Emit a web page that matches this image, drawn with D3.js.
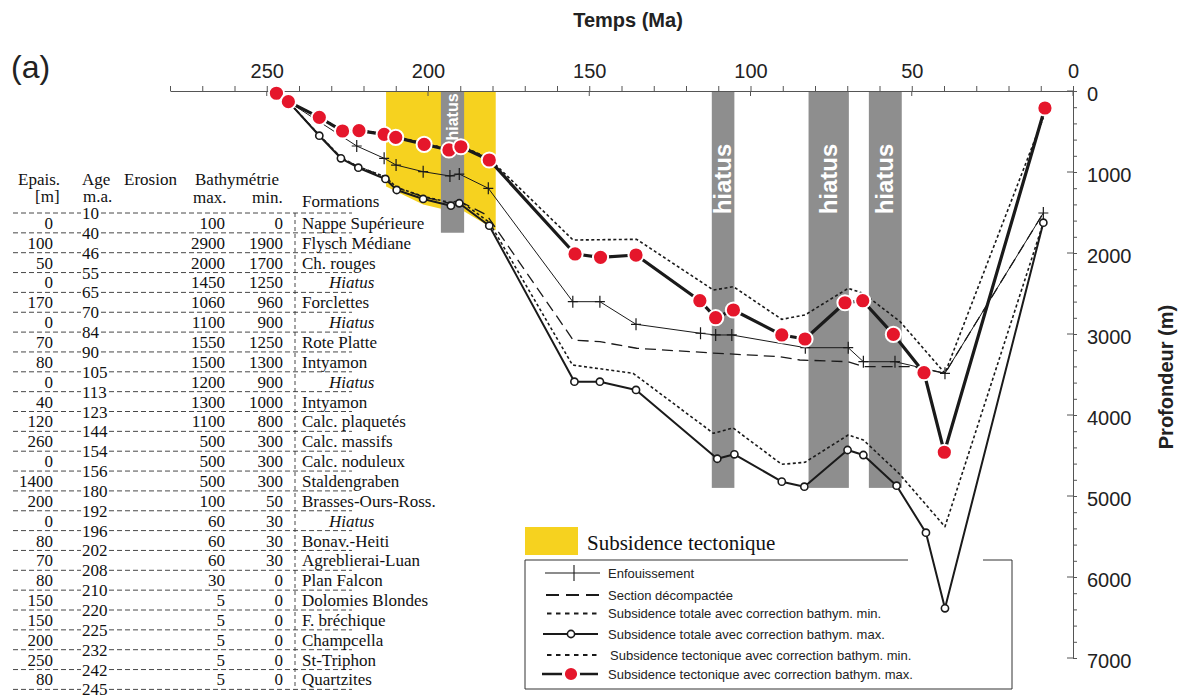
<!DOCTYPE html>
<html><head><meta charset="utf-8">
<script src="https://cdn.jsdelivr.net/npm/d3@7"></script>
<style>
body{margin:0;background:#fff;}
svg{display:block;}
</style></head><body>
<svg id="c" width="1180" height="699"></svg>
<script>
// ---------- Table (left) ----------
const tableAges = [10,40,46,55,65,70,84,90,105,113,123,144,154,156,180,192,196,202,208,210,220,225,232,242,245];
const tableEpais = [0,100,50,0,170,0,70,80,0,40,120,260,0,1400,200,0,80,70,80,150,150,200,250,80];
const tableBathyMax = [100,2900,2000,1450,1060,1100,1550,1500,1200,1300,1100,500,500,500,100,60,60,60,30,5,5,5,5,5];
const tableBathyMin = [0,1900,1700,1250,960,900,1250,1300,900,1000,800,300,300,300,50,30,30,30,0,0,0,0,0,0];
const tableFormations = ["Nappe Supérieure","Flysch Médiane","Ch. rouges","Hiatus","Forclettes","Hiatus","Rote Platte","Intyamon","Hiatus","Intyamon","Calc. plaquetés","Calc. massifs","Calc. noduleux","Staldengraben","Brasses-Ours-Ross.","Hiatus","Bonav.-Heiti","Agreblierai-Luan","Plan Falcon","Dolomies Blondes","F. bréchique","Champcella","St-Triphon","Quartzites"];

// ---------- Axes ----------
const xTicks = d3.range(0, 281, 10);
const xLabels = [250, 200, 150, 100, 50, 0];
const yTicks = d3.range(0, 7001, 200);
const yLabels = [0, 1000, 2000, 3000, 4000, 5000, 6000, 7000];

// ---------- Bands ----------
const tectBandAge = [213, 201.5, 193, 190.3, 179];
const tectBandBottom = [1180, 1400, 1480, 1450, 1720];
const hiatusStart = [196, 112, 82, 63.3];
const hiatusEnd = [188.8, 105, 69.5, 53.1];
const hiatusBottom = [1750, 4900, 4900, 4900];

// ---------- Series (age Ma, depth m) ----------
const tectMaxAge   = [247,243.3,233.7,226.5,221.4,213.6,210,201.2,193.5,189.8,181,154.4,146.5,135.5,115.7,110.8,105.3,90.3,83.1,70.7,65.2,55.7,46.2,39.9,8.7];
const tectMaxDepth = [28,132,325,494,490,535,572,658,728,688,852,2012,2053,2025,2589,2799,2704,3012,3062,2614,2589,3004,3478,4460,210];

const tectMinAge   = [247,243.3,233.7,226.5,221.4,213.6,210,201.2,193.5,189.8,181,155,135.3,111.5,105.3,90.3,83.1,69.7,65,53.6,39.7,9.2];
const tectMinDepth = [28,132,320,485,482,525,560,645,715,675,835,1840,1831,2457,2416,2819,2765,2436,2498,2848,3485,330];

const totMaxAge   = [247,243.3,233.7,227,221.6,213.2,209.7,201.5,192.9,190.3,181,154.6,146.7,135.5,110.3,105,90.3,83.3,69.9,65,54.7,45.6,39.7,9.2];
const totMaxDepth = [28,132,552,831,947,1086,1222,1333,1416,1386,1663,3589,3589,3691,4540,4485,4823,4885,4432,4494,4873,5453,6386,1626];

const totMinAge   = [247,243.3,233.7,227,221.6,213.2,209.7,201.5,192.9,190.3,181,155.2,136.4,111.5,105.4,90.3,83.1,69.7,65,54,39.7,9.2];
const totMinDepth = [28,132,545,820,935,1060,1190,1300,1380,1350,1620,3383,3485,4226,4160,4609,4584,4247,4309,4720,5379,1626];

const decompAge   = [247,243.3,233.7,227,221.6,213.2,209.7,201.5,192.9,190.3,181.8,155,146.7,135.3,111.6,90.9,84.7,69.7,65,49.6,39.7,9.2];
const decompDepth = [28,132,545,820,935,1060,1195,1305,1390,1360,1531,3074,3095,3176,3235,3280,3321,3342,3404,3404,3485,1506];

const enfAge   = [247,243.3,222.1,213.6,209.9,201.5,193.2,190.3,181.3,155.1,146.7,135.5,115.5,110.8,105.8,83,69.7,65,55.2,39.7,9.2];
const enfDepth = [28,132,679,831,914,996,1049,1025,1201,2601,2601,2880,2991,3012,3012,3169,3169,3342,3342,3485,1506];

const legendLabels = ["Enfouissement","Section  décompactée","Subsidence totale avec correction bathym. min.","Subsidence totale avec correction bathym. max.","Subsidence tectonique avec correction bathym. min.","Subsidence tectonique avec correction bathym. max."];
const legendBandLabel = "Subsidence tectonique";

// ================= drawing =================
const svg = d3.select("#c");
const SANS = "'Liberation Sans', Arial, Helvetica, sans-serif";
const SERIF = "'Liberation Serif', 'Times New Roman', serif";
const RED = "#e5162b", YELLOW = "#f6d21f", GREY = "#8e8e8e";

const x = d3.scaleLinear().domain([280, 0]).range([170, 1073]);
const y = d3.scaleLinear().domain([0, 7000]).range([91, 658]);
const zip = (a, b) => a.map((v, i) => [v, b[i]]);
const line = d3.line().x(d => x(d[0])).y(d => y(d[1]));

// yellow tectonic band
const band = [[tectBandAge[0], 0], [tectBandAge[tectBandAge.length - 1], 0]]
  .concat(zip(tectBandAge, tectBandBottom).reverse());
svg.append("path").attr("d", line(band) + "Z").attr("fill", YELLOW);

// hiatus bars
hiatusStart.forEach((s, i) => {
  svg.append("rect").attr("x", x(s)).attr("y", y(0))
    .attr("width", x(hiatusEnd[i]) - x(s)).attr("height", y(hiatusBottom[i]) - y(0))
    .attr("fill", GREY);
  const xc = (x(s) + x(hiatusEnd[i])) / 2;
  const yc = i === 0 ? 117 : 179;
  svg.append("text").attr("transform", `translate(${xc + (i === 0 ? 5 : 8)},${yc}) rotate(-90)`)
    .attr("text-anchor", "middle").attr("fill", "#fff")
    .attr("font-family", SANS).attr("font-weight", "bold")
    .attr("font-size", i === 0 ? 16 : 24).text("hiatus");
});

// axes
const gx = svg.append("g").attr("transform", "translate(0,91)")
  .call(d3.axisTop(x).tickValues(xTicks).tickSize(5).tickSizeOuter(0).tickPadding(8)
    .tickFormat(d => xLabels.includes(d) ? d : ""));
gx.selectAll("text").attr("font-size", 20).attr("font-family", SANS).attr("fill", "#222");
gx.selectAll("line,path").attr("stroke", "#555");
xLabels.forEach(v => svg.append("line").attr("x1", x(v)).attr("x2", x(v)).attr("y1", 91).attr("y2", 96).attr("stroke", "#555"));

const gy = svg.append("g").attr("transform", "translate(1073,0)")
  .call(d3.axisRight(y).tickValues(yTicks).tickSize(4).tickSizeOuter(0).tickPadding(10)
    .tickFormat(d => yLabels.includes(d) ? d : ""));
gy.selectAll("text").attr("font-size", 20).attr("font-family", SANS).attr("fill", "#222").attr("dy", "0.45em");
gy.selectAll("line,path").attr("stroke", "#555");
yLabels.forEach(v => svg.append("line").attr("x1", 1067).attr("x2", 1073).attr("y1", y(v)).attr("y2", y(v)).attr("stroke", "#555"));

svg.append("text").attr("x", 628).attr("y", 27).attr("text-anchor", "middle")
  .attr("font-family", SANS).attr("font-weight", "bold").attr("font-size", 20).attr("fill", "#222").text("Temps (Ma)");
svg.append("text").attr("transform", "translate(1173,377) rotate(-90)").attr("text-anchor", "middle")
  .attr("font-family", SANS).attr("font-weight", "bold").attr("font-size", 20).attr("fill", "#222").text("Profondeur (m)");
svg.append("text").attr("x", 11).attr("y", 78).attr("font-family", SANS).attr("font-size", 32).attr("fill", "#222").text("(a)");

// series lines
const drawLine = (a, b, w, dash) => svg.append("path").attr("d", line(zip(a, b)))
  .attr("fill", "none").attr("stroke", "#1a1a1a").attr("stroke-width", w)
  .attr("stroke-dasharray", dash || null).attr("stroke-linejoin", "round");
drawLine(totMinAge, totMinDepth, 1.6, "3,2.5");
drawLine(decompAge, decompDepth, 1.3, "11,6");
drawLine(totMaxAge, totMaxDepth, 2);
drawLine(enfAge, enfDepth, 1);
drawLine(tectMinAge, tectMinDepth, 1.6, "3,2.5");
drawLine(tectMaxAge, tectMaxDepth, 3.2);

// markers
svg.append("g").selectAll("path").data(zip(enfAge, enfDepth).slice(2)).join("path")
  .attr("d", d => `M${x(d[0]) - 5},${y(d[1])}H${x(d[0]) + 5}M${x(d[0])},${y(d[1]) - 6}V${y(d[1]) + 6}`)
  .attr("stroke", "#1a1a1a").attr("stroke-width", 1.2);
svg.append("g").selectAll("circle").data(zip(totMaxAge, totMaxDepth).slice(2)).join("circle")
  .attr("cx", d => x(d[0])).attr("cy", d => y(d[1])).attr("r", 3.6)
  .attr("fill", "#fff").attr("stroke", "#1a1a1a").attr("stroke-width", 1.6);
svg.append("g").selectAll("circle").data(zip(tectMaxAge, tectMaxDepth)).join("circle")
  .attr("cx", d => x(d[0])).attr("cy", d => y(d[1])).attr("r", 7.6)
  .attr("fill", RED).attr("stroke", "#fff").attr("stroke-width", 2);

// ---------- table ----------
const T = svg.append("g").attr("font-family", SERIF).attr("font-size", 17).attr("fill", "#111");
const top0 = 213, rowH = 19.85;
tableAges.forEach((a, k) => {
  const yy = top0 + k * rowH;
  T.append("line").attr("x1", 13).attr("x2", 352).attr("y1", yy).attr("y2", yy)
    .attr("stroke", "#333").attr("stroke-width", 0.9).attr("stroke-dasharray", "5,3");
});
tableAges.forEach((a, k) => {
  const yy = top0 + k * rowH;
  const t = T.append("text").attr("x", 82).attr("y", yy + 6).text(a);
  const bb = t.node().getBBox();
  T.insert("rect", "text").attr("x", bb.x - 1).attr("y", yy - 5).attr("width", bb.width + 2).attr("height", 10).attr("fill", "#fff");
});
T.append("line").attr("x1", 295).attr("x2", 295).attr("y1", top0).attr("y2", top0 + 24 * rowH)
  .attr("stroke", "#333").attr("stroke-width", 0.9).attr("stroke-dasharray", "4,3");
tableFormations.forEach((f, r) => {
  const yb = top0 + (r + 0.5) * rowH + 6;
  T.append("text").attr("x", 53).attr("y", yb).attr("text-anchor", "end").text(tableEpais[r]);
  T.append("text").attr("x", 225).attr("y", yb).attr("text-anchor", "end").text(tableBathyMax[r]);
  T.append("text").attr("x", 283).attr("y", yb).attr("text-anchor", "end").text(tableBathyMin[r]);
  const it = f === "Hiatus";
  T.append("text").attr("x", it ? 329 : 302).attr("y", yb).attr("font-style", it ? "italic" : null).text(f);
});
[["Epais.", 18, 185], ["[m]", 35, 202], ["Age", 82, 185], ["m.a.", 83, 202], ["Erosion", 124, 185],
 ["Bathymétrie", 195, 185], ["max.", 193, 203], ["min.", 252, 203], ["Formations", 302, 207]]
  .forEach(h => T.append("text").attr("x", h[1]).attr("y", h[2]).text(h[0]));

// ---------- legend ----------
svg.append("rect").attr("x", 525).attr("y", 527).attr("width", 53).attr("height", 28).attr("fill", YELLOW);
svg.append("text").attr("x", 587).attr("y", 550).attr("font-family", SERIF).attr("font-size", 21).attr("fill", "#111").text(legendBandLabel);
const L = svg.append("g").attr("stroke", "#333").attr("stroke-width", 1).attr("fill", "none");
L.append("path").attr("d", "M908,560H525V689H1012V560H983");
const ly = [573, 595, 613.5, 634, 655, 674];
const lg = svg.append("g");
legendLabels.forEach((lab, i) => {
  const yy = ly[i];
  if (i === 0) {
    lg.append("path").attr("d", `M545,${yy}H600M574,${yy - 8}V${yy + 8}`).attr("stroke", "#1a1a1a").attr("stroke-width", 1.1);
  } else if (i === 1) {
    lg.append("line").attr("x1", 546).attr("x2", 600).attr("y1", yy).attr("y2", yy).attr("stroke", "#1a1a1a").attr("stroke-width", 2.2).attr("stroke-dasharray", "13,7");
  } else if (i === 2 || i === 4) {
    lg.append("line").attr("x1", 547).attr("x2", 598).attr("y1", yy).attr("y2", yy).attr("stroke", "#1a1a1a").attr("stroke-width", 2.2).attr("stroke-dasharray", "4.5,4.5");
  } else if (i === 3) {
    lg.append("line").attr("x1", 543).attr("x2", 598).attr("y1", yy).attr("y2", yy).attr("stroke", "#1a1a1a").attr("stroke-width", 1.8);
    lg.append("circle").attr("cx", 571).attr("cy", yy).attr("r", 3.6).attr("fill", "#fff").attr("stroke", "#1a1a1a").attr("stroke-width", 1.6);
  } else {
    lg.append("line").attr("x1", 542).attr("x2", 598).attr("y1", yy).attr("y2", yy).attr("stroke", "#1a1a1a").attr("stroke-width", 2.6);
    lg.append("circle").attr("cx", 571).attr("cy", yy).attr("r", 7.6).attr("fill", RED).attr("stroke", "#fff").attr("stroke-width", 3);
  }
  lg.append("text").attr("x", i === 4 ? 610 : 608).attr("y", yy + 4.5).attr("font-family", SANS)
    .attr("font-size", 13).attr("fill", "#222").text(lab);
});
</script>
</body></html>
